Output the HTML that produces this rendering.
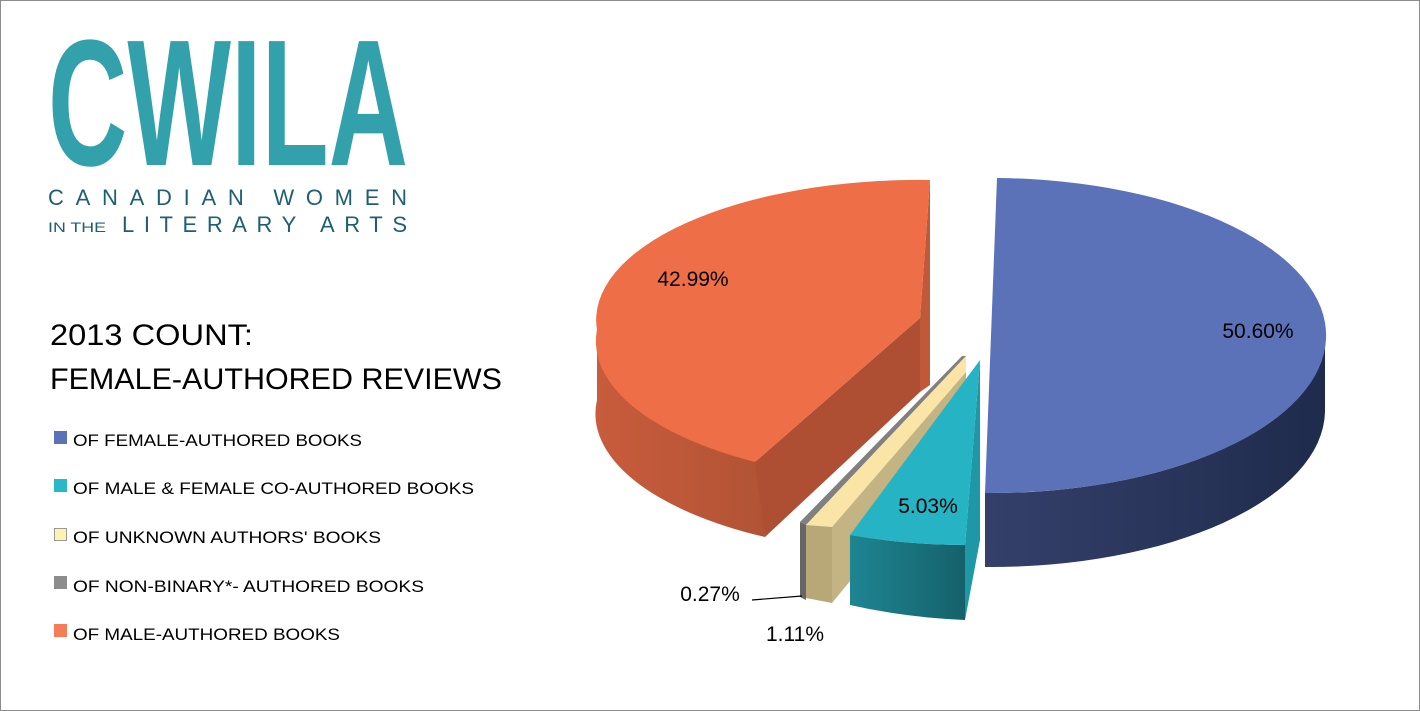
<!DOCTYPE html>
<html><head><meta charset="utf-8"><style>
html,body{margin:0;padding:0;background:#fff}
svg{display:block}
text{font-family:"Liberation Sans",sans-serif}
</style></head><body>
<svg width="1420" height="711" viewBox="0 0 1420 711" xmlns="http://www.w3.org/2000/svg">
<defs>
<linearGradient id="bside" x1="0" x2="1" y1="0" y2="0"><stop offset="0" stop-color="#34406a"/><stop offset="1" stop-color="#1f2b4c"/></linearGradient>
<linearGradient id="tside" x1="0" x2="1"><stop offset="0" stop-color="#1e8591"/><stop offset="1" stop-color="#15616b"/></linearGradient>
<linearGradient id="oside" x1="0" x2="1"><stop offset="0" stop-color="#c85c3c"/><stop offset="1" stop-color="#b25335"/></linearGradient>
</defs>
<rect x="0.5" y="0.5" width="1419" height="710" fill="#fff" stroke="#8c8c8c"/>
<!-- logo -->
<text x="48" y="165" font-size="180" font-weight="bold" fill="#33A1AC" textLength="360" lengthAdjust="spacingAndGlyphs" style="font-family:'Liberation Sans Narrow','Liberation Sans',sans-serif">CWILA</text>
<text x="48" y="205" font-size="22" fill="#1E5F74" textLength="359" lengthAdjust="spacing">CANADIAN WOMEN</text>
<text x="48" y="232" font-size="14" fill="#1E5F74" textLength="58" lengthAdjust="spacingAndGlyphs">IN THE</text>
<text x="122" y="232" font-size="22" fill="#1E5F74" textLength="285" lengthAdjust="spacing">LITERARY ARTS</text>
<!-- title -->
<text x="50" y="345" font-size="30" fill="#000" textLength="203" lengthAdjust="spacingAndGlyphs">2013 COUNT:</text>
<text x="50" y="389" font-size="30" fill="#000" textLength="452" lengthAdjust="spacingAndGlyphs">FEMALE-AUTHORED REVIEWS</text>
<!-- legend -->
<rect x="54" y="431" width="13" height="13" fill="#5b72b8"/>
<text x="73" y="446" font-size="17" textLength="289" lengthAdjust="spacingAndGlyphs">OF FEMALE-AUTHORED BOOKS</text>
<rect x="54" y="479" width="13" height="13" fill="#28b8c8"/>
<text x="73" y="494" font-size="17" textLength="401" lengthAdjust="spacingAndGlyphs">OF MALE &amp; FEMALE CO-AUTHORED BOOKS</text>
<rect x="54.5" y="528.5" width="12" height="12" fill="#fdf2b0" stroke="#999"/>
<text x="73" y="543" font-size="17" textLength="308" lengthAdjust="spacingAndGlyphs">OF UNKNOWN AUTHORS' BOOKS</text>
<rect x="54" y="576" width="13" height="13" fill="#8c8c8c"/>
<text x="73" y="592" font-size="17" textLength="351" lengthAdjust="spacingAndGlyphs">OF NON-BINARY*- AUTHORED BOOKS</text>
<rect x="54" y="624" width="13" height="13" fill="#f57c56"/>
<text x="73" y="640" font-size="17" textLength="267" lengthAdjust="spacingAndGlyphs">OF MALE-AUTHORED BOOKS</text>
<!-- orange slice -->
<path d="M597,330 L597,400 A323,140 0 0 0 765,537 L760,462 A323,140 0 0 1 597,330 Z" fill="url(#oside)"/>
<path d="M920,318 L755,462 L765,537 L920,392 Z" fill="#ae4f33"/>
<path d="M920,318 L930,180 L930,385 L920,392 Z" fill="#c0593a"/>
<path d="M920,318 L930,180 A323,140 0 0 0 597,330 A323,140 0 0 0 755,462 Z" fill="#ee6e48"/>
<!-- gray slice -->
<path d="M800,522 L962,356 L966,356 L806,525 Z" fill="#808080"/>
<path d="M800,522 L806,525 L806,600 L800,597 Z" fill="#666"/>
<!-- beige slice -->
<path d="M806,525 L966,356 L966,372 L832,527 Z" fill="#fae5a6"/>
<path d="M806,525 L832,527 L832,603 L806,598 Z" fill="#b8a878"/>
<path d="M832,527 L966,372 L966,440 L832,603 Z" fill="#c4b383"/>
<!-- cyan slice -->
<path d="M850,535 A334,157 0 0 0 965,545 L965,620 A334,157 0 0 1 850,605 Z" fill="url(#tside)"/>
<path d="M965,545 L980,360 L980,540 L965,620 Z" fill="#1e98a6"/>
<path d="M980,360 L965,545 A334,157 0 0 1 850,535 Z" fill="#26b3c4"/>
<!-- blue slice -->
<path d="M1325,340 L1325,412 A334,157 0 0 1 985,567 L985,493 A334,157 0 0 0 1325,340 Z" fill="url(#bside)"/>
<path d="M997,178 A334,157 0 0 1 985,493 Z" fill="#5b72b8"/>
<!-- labels -->
<text x="1258" y="338" font-size="21" text-anchor="middle">50.60%</text>
<text x="693" y="286" font-size="21" text-anchor="middle">42.99%</text>
<text x="928" y="513" font-size="21" text-anchor="middle">5.03%</text>
<text x="710" y="601" font-size="21" text-anchor="middle">0.27%</text>
<text x="795" y="641" font-size="21" text-anchor="middle">1.11%</text>
<path d="M752,600 L802,596" stroke="#000" stroke-width="1.2" fill="none"/>
</svg>
</body></html>
